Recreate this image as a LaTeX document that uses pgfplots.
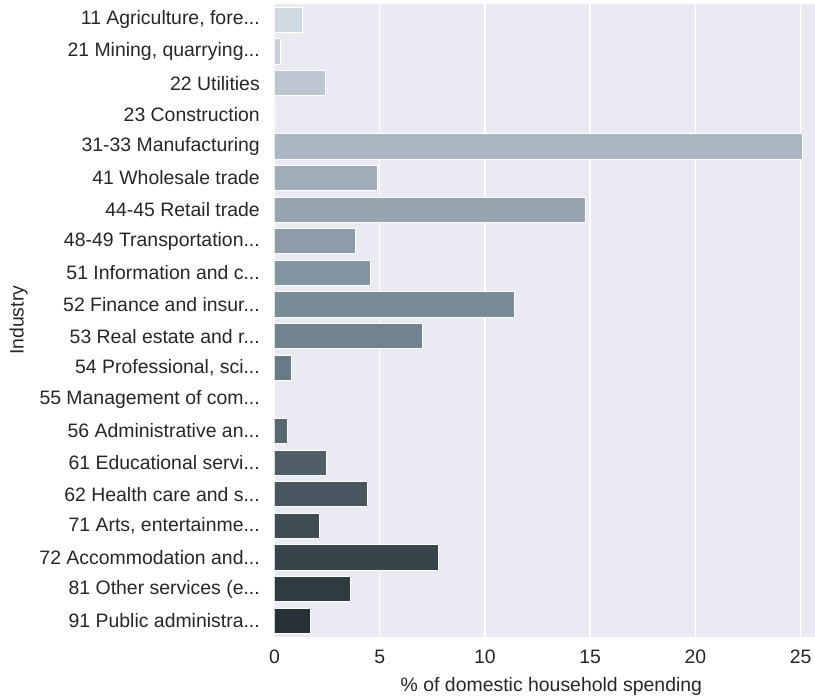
\documentclass[border=0pt]{standalone}
\usepackage{pgfplots}
\pgfplotsset{compat=1.18}
\usepackage{fontspec}
\setmainfont{Liberation Sans}
\newcommand{\el}{.\kern0pt.\kern0pt.}
\definecolor{bgc}{RGB}{234,234,242}
\definecolor{txt}{RGB}{38,38,38}
\definecolor{c0}{RGB}{208,216,226}
\definecolor{c1}{RGB}{198,207,218}
\definecolor{c2}{RGB}{189,199,210}
\definecolor{c3}{RGB}{179,190,201}
\definecolor{c4}{RGB}{170,182,193}
\definecolor{c5}{RGB}{160,173,185}
\definecolor{c6}{RGB}{151,165,177}
\definecolor{c7}{RGB}{141,156,168}
\definecolor{c8}{RGB}{132,148,160}
\definecolor{c9}{RGB}{122,139,152}
\definecolor{c10}{RGB}{114,130,142}
\definecolor{c11}{RGB}{105,121,133}
\definecolor{c12}{RGB}{97,112,123}
\definecolor{c13}{RGB}{89,103,113}
\definecolor{c14}{RGB}{80,94,104}
\definecolor{c15}{RGB}{72,85,94}
\definecolor{c16}{RGB}{63,76,84}
\definecolor{c17}{RGB}{55,68,75}
\definecolor{c18}{RGB}{46,59,65}
\definecolor{c19}{RGB}{38,50,55}
\begin{document}
\begin{tikzpicture}
\useasboundingbox (-274.5bp,-61.5bp) rectangle (540.5bp,636.5bp);
\clip (-274.5bp,-61.5bp) rectangle (540.5bp,636.5bp);
\begin{axis}[
  at={(0,0)}, anchor=south west,
  scale only axis, width=553.8bp, height=632.5bp,
  xmin=0, xmax=26.31, ymin=-0.5, ymax=19.5, y dir=reverse,
  axis background/.style={fill=bgc},
  axis line style={draw=none},
  major tick length=0pt,
  xmajorgrids, grid style={white, line width=1.5bp},
  xtick={0,5,10,15,20,25},
  ytick={0,1,2,3,4,5,6,7,8,9,10,11,12,13,14,15,16,17,18,19},
  yticklabels={{11 Agriculture, fore\el},{21 Mining, quarrying\el},{22 Utilities},{23 Construction},{31-33 Manufacturing},{41 Wholesale trade},{44-45 Retail trade},{48-49 Transportation\el},{51 Information and c\el},{52 Finance and insur\el},{53 Real estate and r\el},{54 Professional, sci\el},{55 Management of com\el},{56 Administrative an\el},{61 Educational servi\el},{62 Health care and s\el},{71 Arts, entertainme\el},{72 Accommodation and\el},{81 Other services (e\el},{91 Public administra\el}},
  /pgf/number format/assume math mode=true,
  tick label style={font=\fontsize{19.5}{23}\selectfont, text=txt, inner sep=0pt},
  yticklabel style={xshift=-14.5bp},
  xticklabel style={yshift=-13bp},
  label style={font=\fontsize{19.5}{23}\selectfont, text=txt},
  xlabel={\% of domestic household spending},
  ylabel={Industry},
  xlabel style={at={(axis description cs:0.5,0)}, anchor=base, yshift=-54.5bp, inner sep=0pt},
  ylabel style={at={(axis description cs:0,0.5)}, anchor=center, rotate=0, yshift=256bp, inner sep=0pt},
  every axis plot/.append style={xbar, bar width=0.8, bar shift=0pt, draw=white, line width=0.8bp},
]
\addplot[fill=c0] coordinates {(1.32,0)};
\addplot[fill=c1] coordinates {(0.28,1)};
\addplot[fill=c2] coordinates {(2.41,2)};
\addplot[fill=c3] coordinates {(0.06,3)};
\addplot[fill=c4] coordinates {(25.06,4)};
\addplot[fill=c5] coordinates {(4.90,5)};
\addplot[fill=c6] coordinates {(14.76,6)};
\addplot[fill=c7] coordinates {(3.86,7)};
\addplot[fill=c8] coordinates {(4.57,8)};
\addplot[fill=c9] coordinates {(11.39,9)};
\addplot[fill=c10] coordinates {(7.02,10)};
\addplot[fill=c11] coordinates {(0.78,11)};
\addplot[fill=c12] coordinates {(0,12)};
\addplot[fill=c13] coordinates {(0.59,13)};
\addplot[fill=c14] coordinates {(2.46,14)};
\addplot[fill=c15] coordinates {(4.41,15)};
\addplot[fill=c16] coordinates {(2.15,16)};
\addplot[fill=c17] coordinates {(7.80,17)};
\addplot[fill=c18] coordinates {(3.59,18)};
\addplot[fill=c19] coordinates {(1.69,19)};
\end{axis}
\end{tikzpicture}
\end{document}
